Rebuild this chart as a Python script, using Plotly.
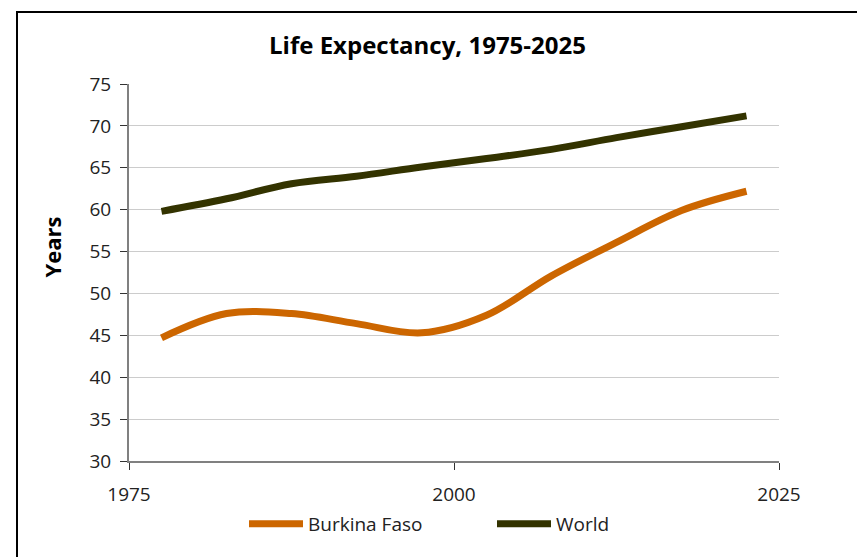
import plotly.graph_objects as go

# 5-year period midpoints (1975-80 ... 2020-25)
years = [1977.5, 1982.5, 1987.5, 1992.5, 1997.5, 2002.5, 2007.5, 2012.5, 2017.5, 2022.5]
burkina_faso = [44.7, 47.6, 47.6, 46.4, 45.3, 47.4, 52.1, 56.1, 59.9, 62.2]
world = [59.8, 61.3, 63.1, 64.0, 65.1, 66.1, 67.2, 68.6, 69.9, 71.2]

FONT = "Open Sans"

# the page body adds an 8px margin, so the figure is sized/offset for that
W, H = 857, 549
L, R, T, B = 121, 86, 76, 96
PW, PH = W - L - R, H - T - B

fig = go.Figure()

fig.add_trace(go.Scatter(
    x=years, y=burkina_faso, name="Burkina Faso", mode="lines",
    line=dict(color="#CC6600", width=7, shape="spline"),
))
fig.add_trace(go.Scatter(
    x=years, y=world, name="World", mode="lines",
    line=dict(color="#333300", width=7, shape="spline"),
))

fig.update_layout(
    width=W,
    height=H,
    margin=dict(l=L, r=R, t=T, b=B, autoexpand=False),
    paper_bgcolor="white",
    plot_bgcolor="white",
    font=dict(family=FONT, size=19, color="#222222"),
    title=dict(
        text="<b>Life Expectancy, 1975-2025</b>",
        x=419.5 / W, xanchor="center",
        y=1 - 38 / H, yanchor="middle",
        font=dict(family=FONT, size=24, color="black"),
    ),
    legend=dict(
        orientation="h",
        x=(236 - L) / PW, xanchor="left",
        y=-(516 - (H - B)) / PH, yanchor="middle",
        entrywidth=179, entrywidthmode="pixels",
        itemwidth=54,
        font=dict(family=FONT, size=19, color="#222222"),
        bgcolor="rgba(0,0,0,0)",
    ),
    showlegend=True,
)

fig.update_xaxes(
    range=[1975, 2025],
    tickvals=[1975, 2000, 2025],
    showgrid=False,
    showline=True, linecolor="#808080", linewidth=2,
    ticks="outside", ticklen=7, tickcolor="#333333", tickwidth=1,
    ticklabelstandoff=8,
    zeroline=False,
    automargin=False,
)

fig.update_yaxes(
    range=[30, 75],
    dtick=5,
    showgrid=True, gridcolor="#CCCCCC", gridwidth=1,
    showline=True, linecolor="#808080", linewidth=2,
    ticks="outside", ticklen=7, tickcolor="#333333", tickwidth=1,
    ticklabelstandoff=5,
    zeroline=False,
    automargin=False,
)

# y-axis title sits above the axis middle in the original, so use an annotation
fig.add_annotation(
    text="<b>Years</b>", textangle=-90, showarrow=False,
    xref="paper", yref="paper",
    x=(43 - L) / PW, xanchor="center",
    y=((H - B) - 239.5) / PH, yanchor="middle",
    font=dict(family=FONT, size=22, color="black"),
)

# outer chart frame (extends past the right and bottom edges)
fig.add_shape(
    type="rect", xref="paper", yref="paper",
    x0=(9 - L) / PW, x1=1.3,
    y0=-0.4, y1=((H - B) - 4) / PH,
    line=dict(color="black", width=2),
    fillcolor="rgba(0,0,0,0)",
    layer="below",
)

fig.write_html("out.html")
